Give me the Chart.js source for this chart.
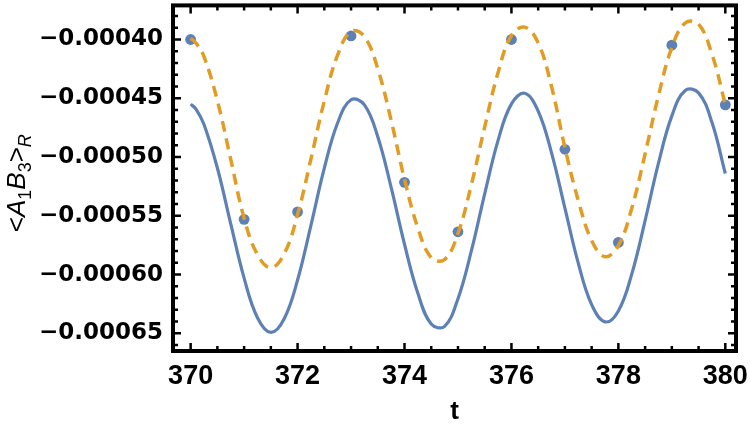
<!DOCTYPE html>
<html>
<head>
<meta charset="utf-8">
<script src="https://cdn.jsdelivr.net/npm/chart.js@4.4.1/dist/chart.umd.min.js"></script>
<style>
  html, body { margin: 0; padding: 0; background: #fff; }
  canvas { display: block; }
</style>
</head>
<body>
<canvas id="chart" width="750" height="432"></canvas>
<script>
// sample times for the two smooth curves
const tCurve = [
  370, 370.1, 370.25, 370.5, 370.75, 371, 371.25, 371.5, 371.75, 372, 372.25,
  372.5, 372.75, 373, 373.25, 373.5, 373.75, 374, 374.25, 374.5, 374.75,
  375, 375.25, 375.5, 375.75, 376, 376.25, 376.5, 376.75, 377, 377.25,
  377.5, 377.75, 378, 378.25, 378.5, 378.75, 379, 379.25, 379.5, 379.75,
  380
];

// solid blue curve
const blueCurve = [
  -0.0004550, -0.0004592, -0.0004723, -0.0005093, -0.0005568, -0.0006030, -0.0006367, -0.0006492, -0.0006375, -0.0006046, -0.0005581,
  -0.0005095, -0.0004708, -0.0004513, -0.0004556, -0.0004827, -0.0005258, -0.0005742, -0.0006159, -0.0006420, -0.0006440,
  -0.0006205, -0.0005799, -0.0005313, -0.0004858, -0.0004548, -0.0004458, -0.0004609, -0.0004964, -0.0005434, -0.0005903,
  -0.0006256, -0.0006402, -0.0006309, -0.0005996, -0.0005540, -0.0005052, -0.0004650, -0.0004434, -0.0004454, -0.0004705,
  -0.0005140
];

// dashed orange curve
const orangeCurve = [
  -0.0003990, -0.0004030, -0.0004146, -0.0004521, -0.0005020, -0.0005520, -0.0005830, -0.0005941, -0.0005823, -0.0005489, -0.0005016,
  -0.0004523, -0.0004130, -0.0003931, -0.0003975, -0.0004250, -0.0004688, -0.0005190, -0.0005603, -0.0005856, -0.0005872,
  -0.0005649, -0.0005236, -0.0004743, -0.0004281, -0.0003966, -0.0003895, -0.0004029, -0.0004400, -0.0004920, -0.0005370,
  -0.0005710, -0.0005848, -0.0005753, -0.0005436, -0.0004973, -0.0004477, -0.0004069, -0.0003860, -0.0003870, -0.0004125,
  -0.0004551
];

// blue dots at integer times
const tDots = [370, 371, 372, 373, 374, 375, 376, 377, 378, 379, 380];
const dotValues = [
  -0.000400, -0.000553, -0.0005467, -0.000397, -0.0005215, -0.0005636,
  -0.000400, -0.0004934, -0.0005726, -0.0004048, -0.0004556
];

const xTicks = [370, 372, 374, 376, 378, 380];
const yTicks = [-0.00065, -0.0006, -0.00055, -0.0005, -0.00045, -0.0004];

const BLUE = '#5e81b5';
const ORANGE = '#e19c24';

function toPoints(xs, ys) {
  return xs.map((x, i) => ({ x, y: ys[i] }));
}

// Mathematica-style frame with inward ticks on all four sides
const framePlugin = {
  id: 'frame',
  afterDatasetsDraw(chart) {
    const { ctx, chartArea: a, scales: { x, y } } = chart;
    ctx.save();
    ctx.strokeStyle = '#000';
    ctx.lineWidth = 2.5;
    ctx.lineCap = 'butt';
    ctx.beginPath();
    for (let v = 370; v <= 380.001; v += 0.5) {
      const px = x.getPixelForValue(v);
      const len = xTicks.includes(v) ? 8 : 5;
      ctx.moveTo(px, a.bottom); ctx.lineTo(px, a.bottom - len);
      ctx.moveTo(px, a.top); ctx.lineTo(px, a.top + len);
    }
    for (let k = -66; k <= -38; k++) {
      const v = k * 1e-5;
      if (v < y.min || v > y.max) continue;
      const py = y.getPixelForValue(v);
      const len = k % 5 === 0 ? 8 : 5;
      ctx.moveTo(a.left, py); ctx.lineTo(a.left + len, py);
      ctx.moveTo(a.right, py); ctx.lineTo(a.right - len, py);
    }
    ctx.stroke();
    ctx.lineWidth = 4;
    ctx.strokeRect(a.left, a.top, a.right - a.left, a.bottom - a.top);
    ctx.restore();
  },
  afterDraw(chart) {
    // y axis label <A1B3>R with subscripts, rotated
    const { ctx, chartArea: a } = chart;
    const fam = '"Liberation Sans", Arial, sans-serif';
    const parts = [
      { t: '<', f: '26px ' + fam, dy: 0 },
      { t: 'A', f: 'italic 26px ' + fam, dy: 0 },
      { t: '1', f: '18px ' + fam, dy: 6 },
      { t: 'B', f: 'italic 26px ' + fam, dy: 0 },
      { t: '3', f: '18px ' + fam, dy: 6 },
      { t: '>', f: '26px ' + fam, dy: 0 },
      { t: 'R', f: 'italic 18px ' + fam, dy: 6 }
    ];
    ctx.save();
    let total = 0;
    parts.forEach(p => { ctx.font = p.f; p.w = ctx.measureText(p.t).width; total += p.w; });
    ctx.translate(25, (a.top + a.bottom) / 2 + 5);
    ctx.rotate(-Math.PI / 2);
    ctx.fillStyle = '#000';
    ctx.textBaseline = 'alphabetic';
    let cx = -total / 2;
    parts.forEach(p => { ctx.font = p.f; ctx.fillText(p.t, cx, p.dy); cx += p.w; });
    ctx.restore();
  }
};

const ctx = document.getElementById('chart').getContext('2d');
new Chart(ctx, {
  type: 'line',
  data: {
    datasets: [
      {
        data: toPoints(tCurve, orangeCurve),
        borderColor: ORANGE, borderWidth: 3.5, borderDash: [11, 7],
        pointRadius: 0, tension: 0.4, fill: false, order: 0
      },
      {
        data: toPoints(tCurve, blueCurve),
        borderColor: BLUE, borderWidth: 3.2,
        pointRadius: 0, tension: 0.4, fill: false, order: 1
      },
      {
        data: toPoints(tDots, dotValues),
        showLine: false, pointRadius: 5.4, pointBorderWidth: 0,
        pointBackgroundColor: BLUE, borderColor: BLUE, order: 2
      }
    ]
  },
  options: {
    responsive: false,
    animation: false,
    events: [],
    layout: { padding: { top: 2, right: 14, left: 0, bottom: 0 } },
    plugins: { legend: { display: false }, tooltip: { enabled: false } },
    scales: {
      x: {
        type: 'linear', min: 369.67, max: 380.2,
        grid: { display: false }, border: { display: false },
        afterBuildTicks: s => { s.ticks = xTicks.map(v => ({ value: v })); },
        afterFit: s => { s.height = 81; s.paddingLeft = 0; s.paddingRight = 0; },
        ticks: {
          autoSkip: false, maxRotation: 0, padding: 1, color: '#000',
          font: { family: '"Liberation Sans", Arial, sans-serif', weight: 'bold', size: 27 },
          callback: v => String(v)
        },
        title: {
          display: true, text: 't', color: '#000',
          font: { family: '"Liberation Sans", Arial, sans-serif', weight: 'bold', size: 26 },
          padding: { top: 0, bottom: 5 }
        }
      },
      y: {
        type: 'linear', min: -0.000665, max: -0.000371,
        grid: { display: false }, border: { display: false },
        afterBuildTicks: s => { s.ticks = yTicks.map(v => ({ value: v })); },
        afterFit: s => { s.width = 173; s.paddingTop = 0; s.paddingBottom = 0; },
        ticks: {
          autoSkip: false, padding: 2, color: '#000',
          font: { family: '"DejaVu Sans", sans-serif', weight: 'bold', size: 23 },
          callback: v => '\u2212' + Math.abs(v).toFixed(5)
        }
      }
    }
  },
  plugins: [framePlugin]
});
</script>
</body>
</html>
